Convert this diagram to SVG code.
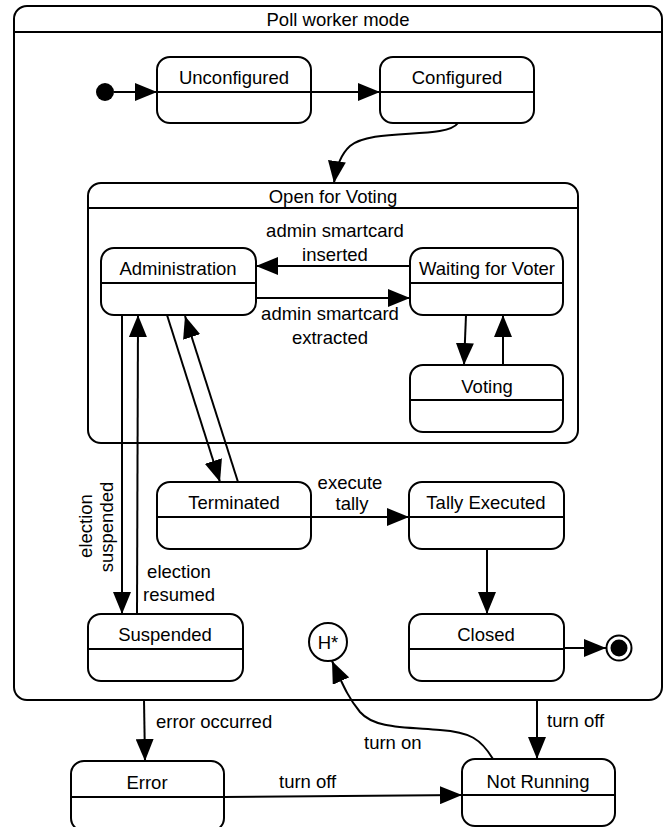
<svg xmlns="http://www.w3.org/2000/svg" width="664" height="827" viewBox="0 0 664 827">
  <style>
    .box { fill: #fff; stroke: #000; stroke-width: 2; }
    .div { stroke: #000; stroke-width: 2; fill: none; }
    .edge { stroke: #000; stroke-width: 2; fill: none; }
    text { font-family: "Liberation Sans", Arial, Helvetica, sans-serif; font-size: 18.5px; fill: #000; }
    .c { text-anchor: middle; }
  </style>
  <defs>
    <marker id="arrow" markerUnits="userSpaceOnUse" markerWidth="22" markerHeight="18" viewBox="0 0 22 18" refX="22" refY="9" orient="auto">
      <path d="M0,0 L22,9 L0,18 Z" fill="#000"/>
    </marker>
  </defs>
  <rect width="664" height="827" fill="#fff"/>

  <!-- composite state: Poll worker mode -->
  <g id="poll-worker-mode">
    <rect class="box" x="14" y="6" width="648" height="694" rx="13"/>
    <line class="div" x1="14" y1="32" x2="662" y2="32"/>
    <text class="c" x="338" y="26">Poll worker mode</text>
  </g>

  <!-- composite state: Open for Voting -->
  <g id="open-for-voting">
    <rect class="box" x="88" y="183" width="490" height="260" rx="13"/>
    <line class="div" x1="88" y1="208" x2="578" y2="208"/>
    <text class="c" x="333" y="203">Open for Voting</text>
  </g>

  <g id="initial">
    <circle cx="105" cy="92" r="9" fill="#000"/>
  </g>

  <g id="unconfigured">
    <rect class="box" x="157" y="57" width="154" height="66" rx="13"/>
    <line class="div" x1="157" y1="92" x2="311" y2="92"/>
    <text class="c" x="234" y="84">Unconfigured</text>
  </g>

  <g id="configured">
    <rect class="box" x="380" y="57" width="154" height="66" rx="13"/>
    <line class="div" x1="380" y1="92" x2="534" y2="92"/>
    <text class="c" x="457" y="84">Configured</text>
  </g>

  <g id="administration">
    <rect class="box" x="101" y="248" width="155" height="67" rx="13"/>
    <line class="div" x1="101" y1="283" x2="256" y2="283"/>
    <text class="c" x="178" y="275">Administration</text>
  </g>

  <g id="waiting-for-voter">
    <rect class="box" x="410" y="248" width="153" height="67" rx="13"/>
    <line class="div" x1="410" y1="283" x2="563" y2="283"/>
    <text class="c" x="487" y="275">Waiting for Voter</text>
  </g>

  <g id="voting">
    <rect class="box" x="410" y="365" width="153" height="67" rx="13"/>
    <line class="div" x1="410" y1="400" x2="563" y2="400"/>
    <text class="c" x="487" y="393">Voting</text>
  </g>

  <g id="terminated">
    <rect class="box" x="157" y="482" width="154" height="67" rx="13"/>
    <line class="div" x1="157" y1="517" x2="311" y2="517"/>
    <text class="c" x="234" y="509">Terminated</text>
  </g>

  <g id="tally-executed">
    <rect class="box" x="409" y="482" width="155" height="67" rx="13"/>
    <line class="div" x1="409" y1="517" x2="564" y2="517"/>
    <text class="c" x="486" y="509">Tally Executed</text>
  </g>

  <g id="suspended">
    <rect class="box" x="88" y="614" width="155" height="67" rx="13"/>
    <line class="div" x1="88" y1="649" x2="243" y2="649"/>
    <text class="c" x="165" y="641">Suspended</text>
  </g>

  <g id="closed">
    <rect class="box" x="409" y="614" width="155" height="67" rx="13"/>
    <line class="div" x1="409" y1="649" x2="564" y2="649"/>
    <text class="c" x="486" y="641">Closed</text>
  </g>

  <g id="final">
    <circle cx="619" cy="648" r="12.5" fill="#fff" stroke="#000" stroke-width="2"/>
    <circle cx="619" cy="648" r="8.5" fill="#000"/>
  </g>

  <g id="history">
    <circle cx="328" cy="642" r="19" fill="#fff" stroke="#000" stroke-width="2"/>
    <text class="c" x="328" y="649">H*</text>
  </g>

  <g id="error">
    <rect class="box" x="71" y="761" width="153" height="70" rx="13"/>
    <line class="div" x1="71" y1="797" x2="224" y2="797"/>
    <text class="c" x="147" y="789">Error</text>
  </g>

  <g id="not-running">
    <rect class="box" x="462" y="759" width="153" height="67" rx="13"/>
    <line class="div" x1="462" y1="795" x2="615" y2="795"/>
    <text class="c" x="538" y="788">Not Running</text>
  </g>

  <!-- transitions -->
  <g id="connectors">
    <line class="edge" x1="114" y1="92" x2="157" y2="92" marker-end="url(#arrow)"/>
    <line class="edge" x1="311" y1="92" x2="380" y2="92" marker-end="url(#arrow)"/>
    <path class="edge" d="M458,123 C446,140 372,127 350,146 C340,155 336,168 334,183" marker-end="url(#arrow)"/>
    <line class="edge" x1="410" y1="266" x2="256" y2="266" marker-end="url(#arrow)"/>
    <line class="edge" x1="256" y1="298" x2="410" y2="298" marker-end="url(#arrow)"/>
    <line class="edge" x1="466" y1="315" x2="464" y2="365" marker-end="url(#arrow)"/>
    <line class="edge" x1="503" y1="365" x2="503" y2="315" marker-end="url(#arrow)"/>
    <line class="edge" x1="122" y1="315" x2="122" y2="614" marker-end="url(#arrow)"/>
    <line class="edge" x1="137" y1="614" x2="138" y2="315" marker-end="url(#arrow)"/>
    <line class="edge" x1="167" y1="315" x2="220" y2="482" marker-end="url(#arrow)"/>
    <line class="edge" x1="238" y1="482" x2="185" y2="316" marker-end="url(#arrow)"/>
    <line class="edge" x1="311" y1="517" x2="409" y2="517" marker-end="url(#arrow)"/>
    <line class="edge" x1="487" y1="549" x2="487" y2="614" marker-end="url(#arrow)"/>
    <line class="edge" x1="564" y1="648" x2="606" y2="648" marker-end="url(#arrow)"/>
    <line class="edge" x1="144" y1="700" x2="145" y2="761" marker-end="url(#arrow)"/>
    <line class="edge" x1="537" y1="700" x2="537" y2="759" marker-end="url(#arrow)"/>
    <line class="edge" x1="224" y1="797" x2="462" y2="795" marker-end="url(#arrow)"/>
    <path class="edge" d="M493,759 C481,739 470,732 440,730 C402,727 374,728 360,712 C350,700 345,690 332,661" marker-end="url(#arrow)"/>
  </g>

  <!-- transition labels -->
  <g id="labels">
    <text class="c" x="335" y="237">admin smartcard</text>
    <text class="c" x="335" y="261">inserted</text>
    <text class="c" x="330" y="320">admin smartcard</text>
    <text class="c" x="330" y="344">extracted</text>
    <text class="c" x="350" y="489">execute</text>
    <text class="c" x="352" y="510">tally</text>
    <text class="c" transform="translate(92,526) rotate(-90)">election</text>
    <text class="c" transform="translate(113,527) rotate(-90)">suspended</text>
    <text class="c" x="179" y="578">election</text>
    <text class="c" x="179" y="601">resumed</text>
    <text x="156" y="728">error occurred</text>
    <text x="547" y="727">turn off</text>
    <text x="364" y="749">turn on</text>
    <text x="279" y="788">turn off</text>
  </g>
</svg>
